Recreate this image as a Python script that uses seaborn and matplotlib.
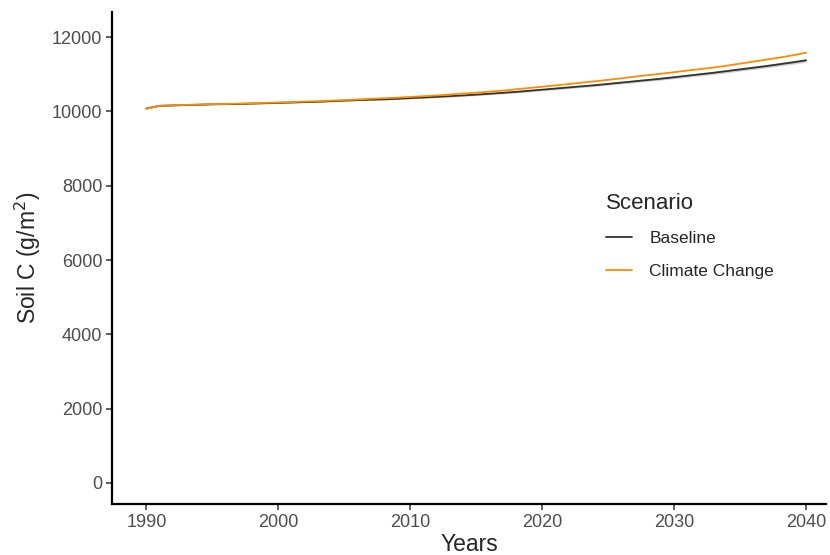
import matplotlib
matplotlib.use("Agg")
import matplotlib.pyplot as plt
import seaborn as sns
import pandas as pd
import numpy as np

years = list(range(1990, 2041))
baseline = [10080, 10150, 10160, 10170, 10180, 10190, 10195, 10200, 10210, 10220,
            10230, 10240, 10250, 10260, 10275, 10290, 10305, 10315, 10325, 10340,
            10358, 10375, 10392, 10410, 10430, 10452, 10475, 10500, 10525, 10555,
            10585, 10615, 10645, 10675, 10705, 10740, 10775, 10810, 10845, 10880,
            10920, 10960, 11000, 11040, 11085, 11130, 11175, 11220, 11270, 11320,
            11375]
climate = [10070, 10150, 10165, 10175, 10185, 10195, 10200, 10210, 10220, 10230,
           10240, 10250, 10265, 10275, 10290, 10305, 10320, 10340, 10355, 10370,
           10390, 10410, 10430, 10455, 10480, 10505, 10530, 10560, 10595, 10630,
           10665, 10700, 10735, 10775, 10810, 10850, 10890, 10935, 10975, 11015,
           11055, 11100, 11140, 11180, 11230, 11285, 11340, 11395, 11450, 11510,
           11580]
baseline_ci = [5, 5, 6, 6, 7, 7, 8, 8, 9, 9,
               10, 11, 12, 13, 14, 15, 16, 17, 18, 19,
               20, 21, 22, 23, 24, 25, 26, 27, 28, 29,
               30, 31, 32, 33, 34, 35, 36, 37, 38, 39,
               40, 41, 42, 43, 44, 45, 46, 47, 48, 49, 50]
scenarios = ["Baseline", "Climate Change"]
colors = {"Baseline": "#333333", "Climate Change": "#FF8C00"}

df = pd.DataFrame({
    "Year": years * 2,
    "SoilC": baseline + climate,
    "Scenario": [scenarios[0]] * len(years) + [scenarios[1]] * len(years),
})

sns.set_theme(style="ticks")
plt.rcParams["font.family"] = ["Liberation Sans", "DejaVu Sans"]

fig = plt.figure(figsize=(8.3, 5.55), dpi=100)
ax = fig.add_axes([0.135, 0.092, 0.86, 0.886])

b = np.array(baseline)
ci = np.array(baseline_ci)
ax.fill_between(years, b - ci, b + ci, color="#999999", alpha=0.45, linewidth=0)

sns.lineplot(data=df, x="Year", y="SoilC", hue="Scenario", palette=colors,
             hue_order=scenarios, linewidth=1.3, ax=ax)

ax.set_xlim(1987.4, 2041.5)
ax.set_ylim(-565, 12670)
ax.set_xticks([1990, 2000, 2010, 2020, 2030, 2040])
ax.set_yticks([0, 2000, 4000, 6000, 8000, 10000, 12000])
ax.tick_params(axis="both", labelsize=13, labelcolor="#4D4D4D", color="#333333",
               length=4, width=1.1, pad=3)
for s in ["top", "right"]:
    ax.spines[s].set_visible(False)
for s in ["left", "bottom"]:
    ax.spines[s].set_linewidth(1.6)
    ax.spines[s].set_color("black")

ax.set_xlabel("Years", fontsize=16.5, labelpad=2)
ax.set_ylabel("Soil C (g/m$^2$)", fontsize=16.5, labelpad=6)

leg = ax.legend(title="Scenario", loc="upper left", bbox_to_anchor=(0.67, 0.665),
                frameon=False, fontsize=12.5, title_fontsize=16,
                handlelength=1.5, labelspacing=1.0, handletextpad=1.0)
leg._legend_box.align = "left"

fig.savefig("out.png", dpi=100)
